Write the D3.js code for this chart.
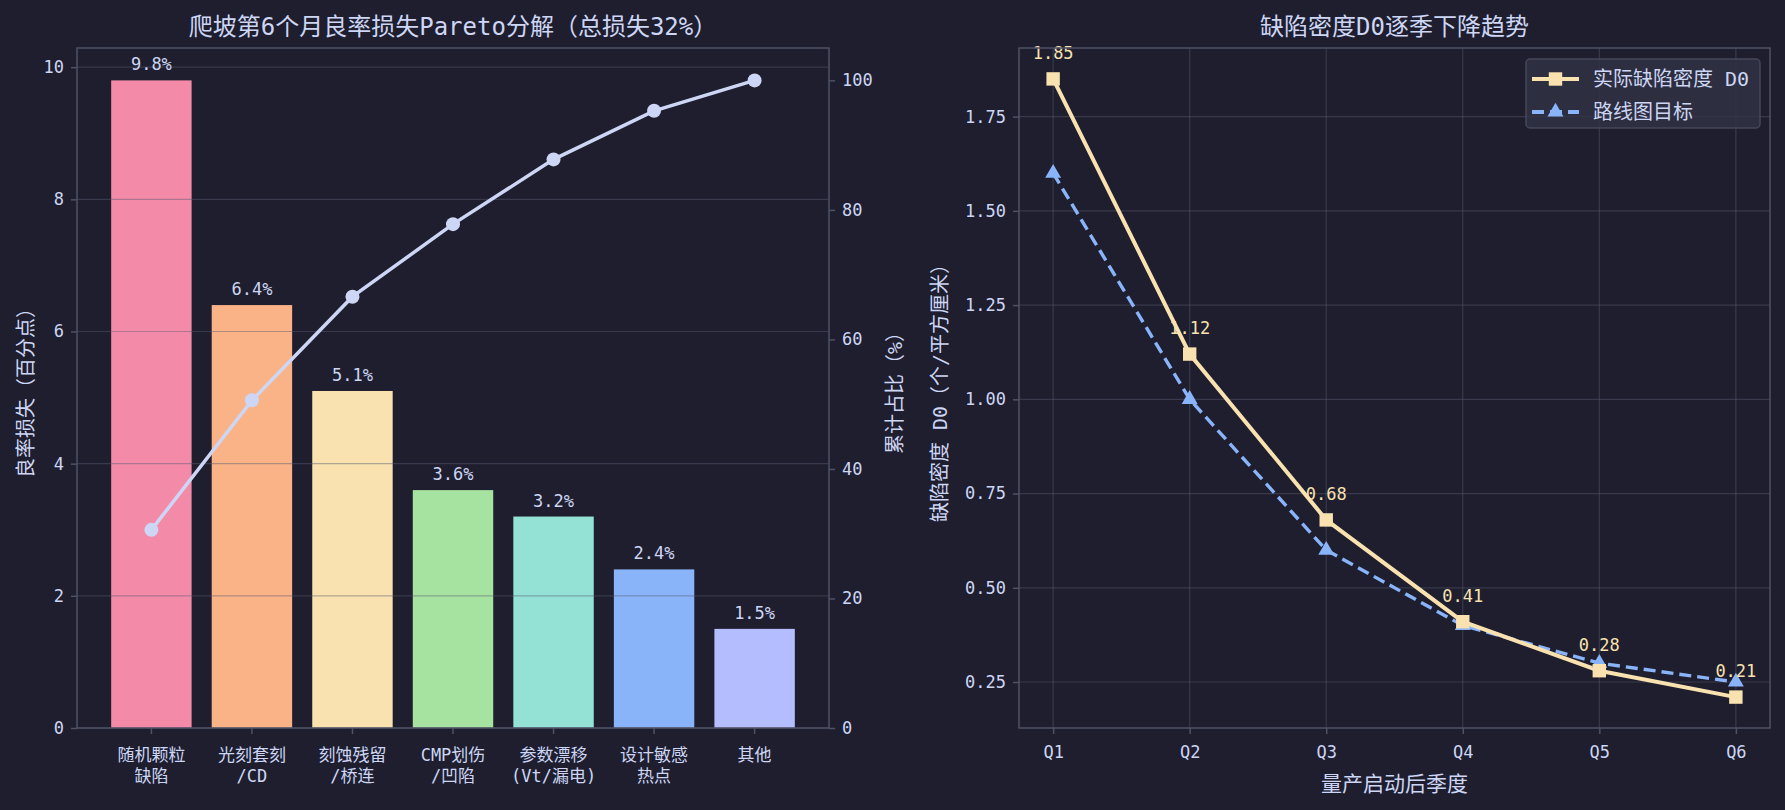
<!DOCTYPE html>
<html>
<head>
<meta charset="utf-8">
<script src="https://cdn.jsdelivr.net/npm/d3@7"></script>
<style>
  body { margin: 0; background: #1e1e2e; }
  svg text { font-family: "DejaVu Sans Mono", "Noto Sans CJK SC", sans-serif; }
</style>
</head>
<body>
<script>
// data
var lossCategories = ["随机颗粒\n缺陷", "光刻套刻\n/CD", "刻蚀残留\n/桥连", "CMP划伤\n/凹陷", "参数漂移\n(Vt/漏电)", "设计敏感\n热点", "其他"];
var lossValues = [9.8, 6.4, 5.1, 3.6, 3.2, 2.4, 1.5];
var cumulativePct = [30.6, 50.6, 66.6, 77.8, 87.8, 95.3, 100];
var barColors = ["#f38ba8", "#fab387", "#f9e2af", "#a6e3a1", "#94e2d5", "#89b4fa", "#b4befe"];

var quarters = ["Q1", "Q2", "Q3", "Q4", "Q5", "Q6"];
var actualD0 = [1.85, 1.12, 0.68, 0.41, 0.28, 0.21];
var targetD0 = [1.6, 1.0, 0.6, 0.4, 0.3, 0.25];

var leftTicks = [0, 2, 4, 6, 8, 10];
var cumTicks = [0, 20, 40, 60, 80, 100];
var d0Ticks = [0.25, 0.5, 0.75, 1.0, 1.25, 1.5, 1.75];

var W = 1785, H = 810;
var bg = "#1e1e2e", fg = "#cdd6f4", spine = "#4f5165", grid = "#585b70";

var svg = d3.select("body").append("svg")
    .attr("width", W)
    .attr("height", H)
    .style("background", bg);

function styleAxis(g) {
    g.select(".domain").remove();
    g.selectAll(".tick line").attr("stroke", spine).attr("stroke-width", 1.5);
    g.selectAll(".tick text").attr("fill", fg).style("font-size", "17px");
}

// ---------- left: pareto ----------
var L = { left: 77, right: 829, top: 48, bottom: 728 };

var x1 = d3.scaleBand()
    .domain(d3.range(lossValues.length))
    .range([L.left, L.right])
    .paddingInner(0.2)
    .paddingOuter(0.34);
var y1 = d3.scaleLinear().domain([0, 10.29]).range([L.bottom, L.top]);
var y2 = d3.scaleLinear().domain([0, 105]).range([L.bottom, L.top]);

var left = svg.append("g");

left.selectAll(".bar")
    .data(lossValues)
    .enter().append("rect")
    .attr("class", "bar")
    .attr("x", function (d, i) { return x1(i); })
    .attr("y", function (d) { return y1(d); })
    .attr("width", x1.bandwidth())
    .attr("height", function (d) { return y1(0) - y1(d); })
    .attr("fill", function (d, i) { return barColors[i]; });

// grid sits above the bars, like the original
left.append("g")
    .selectAll("line")
    .data(leftTicks)
    .enter().append("line")
    .attr("x1", L.left).attr("x2", L.right)
    .attr("y1", function (d) { return y1(d); })
    .attr("y2", function (d) { return y1(d); })
    .attr("stroke", grid)
    .attr("stroke-opacity", 0.45)
    .attr("stroke-width", 1.2);

left.selectAll(".val")
    .data(lossValues)
    .enter().append("text")
    .attr("class", "val")
    .attr("x", function (d, i) { return x1(i) + x1.bandwidth() / 2; })
    .attr("y", function (d) { return y1(d) - 10; })
    .attr("text-anchor", "middle")
    .attr("fill", fg)
    .style("font-size", "17px")
    .text(function (d) { return d.toFixed(1) + "%"; });

var cumLine = d3.line()
    .x(function (d, i) { return x1(i) + x1.bandwidth() / 2; })
    .y(function (d) { return y2(d); });

left.append("path")
    .datum(cumulativePct)
    .attr("fill", "none")
    .attr("stroke", fg)
    .attr("stroke-width", 3.5)
    .attr("d", cumLine);

left.selectAll(".dot")
    .data(cumulativePct)
    .enter().append("circle")
    .attr("class", "dot")
    .attr("cx", function (d, i) { return x1(i) + x1.bandwidth() / 2; })
    .attr("cy", function (d) { return y2(d); })
    .attr("r", 7)
    .attr("fill", fg);

left.append("rect")
    .attr("x", L.left).attr("y", L.top)
    .attr("width", L.right - L.left).attr("height", L.bottom - L.top)
    .attr("fill", "none").attr("stroke", spine).attr("stroke-width", 1.5);

left.append("g")
    .attr("transform", "translate(" + L.left + ",0)")
    .call(d3.axisLeft(y1).tickValues(leftTicks).tickSize(6).tickPadding(7))
    .call(styleAxis);

left.append("g")
    .attr("transform", "translate(" + L.right + ",0)")
    .call(d3.axisRight(y2).tickValues(cumTicks).tickSize(6).tickPadding(7))
    .call(styleAxis);

var xAxis1 = left.append("g")
    .attr("transform", "translate(0," + L.bottom + ")")
    .call(d3.axisBottom(x1).tickSize(6).tickFormat(""))
    .call(styleAxis);

xAxis1.selectAll(".tick").append("text")
    .attr("fill", fg)
    .attr("text-anchor", "middle")
    .style("font-size", "17px")
    .selectAll("tspan")
    .data(function (d) { return lossCategories[d].split("\n"); })
    .enter().append("tspan")
    .attr("x", 0)
    .attr("y", function (d, i) { return 33 + i * 21; })
    .text(function (d) { return d; });

left.append("text")
    .attr("x", (L.left + L.right) / 2)
    .attr("y", 35)
    .attr("text-anchor", "middle")
    .attr("fill", fg)
    .style("font-size", "24px")
    .text("爬坡第6个月良率损失Pareto分解（总损失32%）");

left.append("text")
    .attr("transform", "translate(26," + (L.top + L.bottom) / 2 + ") rotate(-90)")
    .attr("text-anchor", "middle")
    .attr("dy", "0.35em")
    .attr("fill", fg)
    .style("font-size", "20px")
    .text("良率损失（百分点）");

left.append("text")
    .attr("transform", "translate(895," + (L.top + L.bottom) / 2 + ") rotate(-90)")
    .attr("text-anchor", "middle")
    .attr("dy", "0.35em")
    .attr("fill", fg)
    .style("font-size", "20px")
    .text("累计占比（%）");

// ---------- right: D0 trend ----------
var R = { left: 1019, right: 1770, top: 48, bottom: 728 };

var x3 = d3.scaleLinear().domain([-0.25, 5.25]).range([R.left, R.right]);
var y3 = d3.scaleLinear().domain([0.128, 1.932]).range([R.bottom, R.top]);

var right = svg.append("g");

right.append("g")
    .selectAll("line")
    .data(d0Ticks)
    .enter().append("line")
    .attr("x1", R.left).attr("x2", R.right)
    .attr("y1", function (d) { return y3(d); })
    .attr("y2", function (d) { return y3(d); })
    .attr("stroke", grid).attr("stroke-opacity", 0.45).attr("stroke-width", 1.2);

right.append("g")
    .selectAll("line")
    .data(d3.range(quarters.length))
    .enter().append("line")
    .attr("y1", R.top).attr("y2", R.bottom)
    .attr("x1", function (d) { return x3(d); })
    .attr("x2", function (d) { return x3(d); })
    .attr("stroke", grid).attr("stroke-opacity", 0.45).attr("stroke-width", 1.2);

var d0Line = d3.line()
    .x(function (d, i) { return x3(i); })
    .y(function (d) { return y3(d); });

right.append("path")
    .datum(targetD0)
    .attr("fill", "none")
    .attr("stroke", "#89b4fa")
    .attr("stroke-width", 3.4)
    .attr("stroke-dasharray", "12,6")
    .attr("d", d0Line);

right.append("path")
    .datum(actualD0)
    .attr("fill", "none")
    .attr("stroke", "#f9e2af")
    .attr("stroke-width", 4)
    .attr("d", d0Line);

var tri = d3.symbol().type(d3.symbolTriangle).size(110);
var sq = d3.symbol().type(d3.symbolSquare).size(180);

right.selectAll(".tri")
    .data(targetD0)
    .enter().append("path")
    .attr("class", "tri")
    .attr("transform", function (d, i) { return "translate(" + x3(i) + "," + y3(d) + ")"; })
    .attr("d", tri)
    .attr("fill", "#89b4fa");

right.selectAll(".sq")
    .data(actualD0)
    .enter().append("path")
    .attr("class", "sq")
    .attr("transform", function (d, i) { return "translate(" + x3(i) + "," + y3(d) + ")"; })
    .attr("d", sq)
    .attr("fill", "#f9e2af");

right.selectAll(".lab")
    .data(actualD0)
    .enter().append("text")
    .attr("class", "lab")
    .attr("x", function (d, i) { return x3(i); })
    .attr("y", function (d) { return y3(d) - 20; })
    .attr("text-anchor", "middle")
    .attr("fill", "#f9e2af")
    .style("font-size", "17px")
    .text(function (d) { return d.toFixed(2); });

right.append("rect")
    .attr("x", R.left).attr("y", R.top)
    .attr("width", R.right - R.left).attr("height", R.bottom - R.top)
    .attr("fill", "none").attr("stroke", spine).attr("stroke-width", 1.5);

right.append("g")
    .attr("transform", "translate(" + R.left + ",0)")
    .call(d3.axisLeft(y3).tickValues(d0Ticks).tickFormat(d3.format(".2f")).tickSize(6).tickPadding(7))
    .call(styleAxis);

right.append("g")
    .attr("transform", "translate(0," + R.bottom + ")")
    .call(d3.axisBottom(x3).tickValues(d3.range(quarters.length))
        .tickFormat(function (d) { return quarters[d]; }).tickSize(6).tickPadding(12))
    .call(styleAxis);

right.append("text")
    .attr("x", (R.left + R.right) / 2)
    .attr("y", 35)
    .attr("text-anchor", "middle")
    .attr("fill", fg)
    .style("font-size", "24px")
    .text("缺陷密度D0逐季下降趋势");

right.append("text")
    .attr("x", (R.left + R.right) / 2)
    .attr("y", 784)
    .attr("dy", "0.35em")
    .attr("text-anchor", "middle")
    .attr("fill", fg)
    .style("font-size", "21px")
    .text("量产启动后季度");

right.append("text")
    .attr("transform", "translate(940," + (R.top + R.bottom) / 2 + ") rotate(-90)")
    .attr("text-anchor", "middle")
    .attr("dy", "0.35em")
    .attr("fill", fg)
    .style("font-size", "20px")
    .text("缺陷密度 D0（个/平方厘米）");

// legend
var legendItems = [
    { name: "实际缺陷密度 D0", color: "#f9e2af", dash: null, sym: sq },
    { name: "路线图目标", color: "#89b4fa", dash: "12,6", sym: tri }
];
var lg = right.append("g").attr("transform", "translate(1526,59)");
lg.append("rect")
    .attr("width", 234).attr("height", 69)
    .attr("rx", 4)
    .attr("fill", "#313244").attr("fill-opacity", 0.8)
    .attr("stroke", "#45475a").attr("stroke-width", 1.5);

var li = lg.selectAll(".li")
    .data(legendItems)
    .enter().append("g")
    .attr("class", "li")
    .attr("transform", function (d, i) { return "translate(0," + (20 + i * 33) + ")"; });

li.append("line")
    .attr("x1", 6).attr("x2", 53)
    .attr("stroke", function (d) { return d.color; })
    .attr("stroke-width", 4)
    .attr("stroke-dasharray", function (d) { return d.dash; });
li.append("path")
    .attr("transform", "translate(29.5,0)")
    .attr("d", function (d) { return d.sym(); })
    .attr("fill", function (d) { return d.color; });
li.append("text")
    .attr("x", 67)
    .attr("dy", "0.35em")
    .attr("fill", fg)
    .style("font-size", "20px")
    .text(function (d) { return d.name; });
</script>
</body>
</html>
